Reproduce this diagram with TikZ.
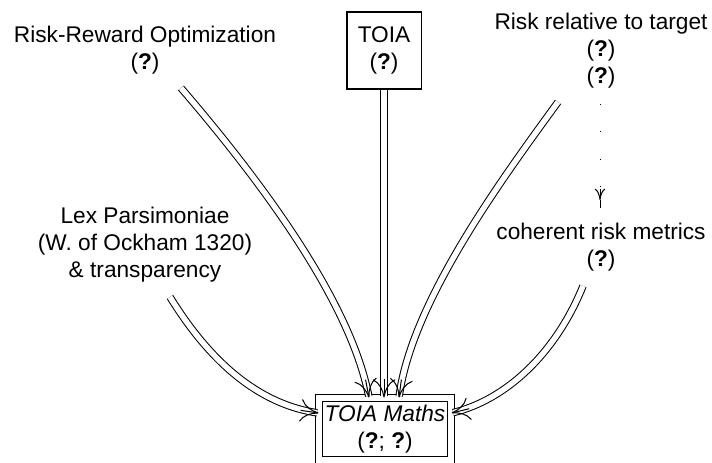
\documentclass[tikz,border=0pt]{standalone}
\usepackage{fontspec}
\setmainfont{Liberation Sans}
\usetikzlibrary{arrows.meta,calc}
\begin{document}
\begin{tikzpicture}[x=0.441pt,y=-0.441pt,
  txt/.style={align=center,inner sep=0pt,font=\fontsize{10}{11.9}\selectfont},
  dbl/.style={double,double distance=2.4pt,line width=0.45pt,shorten >=0.6pt},
  tip/.style={line width=0.45pt,-{To[length=8pt,width=10pt]}},
  smalltip/.style={line width=0.45pt,-{To[length=5pt,width=4.6pt]}}]
\useasboundingbox (0,0) rectangle (712,462);
\clip (0,0) rectangle (712,462);
\node[txt] (rr) at (145,50) {Risk-Reward Optimization\\(\textbf{?})};
\node[txt,draw,line width=0.45pt,minimum width=74*0.441pt,minimum height=77*0.441pt] (toia) at (384,50.5) {TOIA\\(\textbf{?})};
\node[txt] (rt) at (601,51) {Risk relative to target\\(\textbf{?})\\(\textbf{?})};
\node[txt] (lex) at (145,245) {Lex Parsimoniae\\(W. of Ockham 1320)\\\& transparency};
\node[txt] (crm) at (601,247) {coherent risk metrics\\(\textbf{?})};
\node[txt,draw,double,double distance=2.6pt,line width=0.45pt,minimum width=132*0.441pt,minimum height=62*0.441pt] (tm) at (385,429) {\textit{TOIA Maths}\\(\textbf{?}; \textbf{?})};
\coordinate (rrs) at (181,88);
\coordinate (rts) at (558,102);
\coordinate (lexs) at (170,297);
\coordinate (crms) at (583,286);
\coordinate (rre) at (tm.north -| 369,0);
\coordinate (toiae) at (tm.north -| toia.south);
\coordinate (rte) at (tm.north -| 399,0);
\coordinate (lexe) at (tm.west |- 0,413);
\coordinate (crme) at (tm.east |- 0,413);
\coordinate (dots) at (600,104);
\coordinate (dote) at (600,200);
\coordinate (dotend) at (600,208);
\draw[dbl] (rrs) .. controls (260,180) and (350,300) .. (rre);
\draw[dbl] (toia.south) -- (toiae);
\draw[dbl] (rts) .. controls (505,175) and (412,300) .. (rte);
\draw[dbl] (lexs) .. controls (215,370) and (265,405) .. (lexe);
\draw[dbl] (crms) .. controls (555,355) and (505,400) .. (crme);
\draw[tip] ($(rre)!8pt!(350,300)$) -- (rre);
\draw[tip] ($(toiae)!8pt!(toia.south)$) -- (toiae);
\draw[tip] ($(rte)!8pt!(412,300)$) -- (rte);
\draw[tip] ($(lexe)!8pt!(265,405)$) -- (lexe);
\draw[tip] ($(crme)!8pt!(505,400)$) -- (crme);
\draw[line width=0.45pt,dash pattern=on 0.45pt off 11.6pt] (dots) -- (dote);
\draw[smalltip] ($(dote)!5pt!(dots)$) -- (dote);
\draw[line width=0.45pt] (dote) -- (dotend);
\end{tikzpicture}
\end{document}
